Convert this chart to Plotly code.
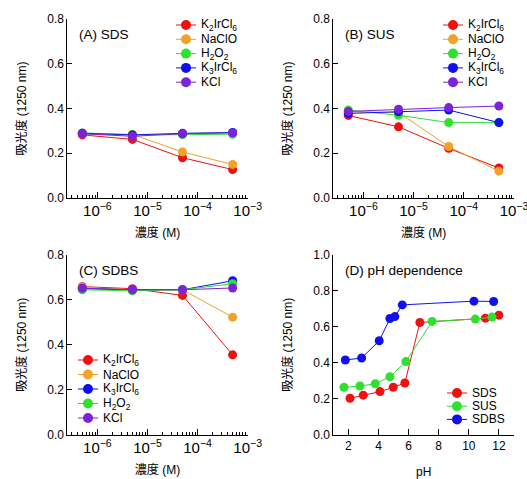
import plotly.graph_objects as go

# ---------------- data ----------------
conc = [5e-7, 5e-6, 5e-5, 5e-4]

sds_k2ircl6 = [0.282, 0.262, 0.180, 0.127]
sds_naclo = [0.287, 0.284, 0.206, 0.150]
sds_h2o2 = [0.291, 0.283, 0.283, 0.285]
sds_k3ircl6 = [0.289, 0.282, 0.289, 0.293]
sds_kcl = [0.287, 0.276, 0.287, 0.291]

sus_k2ircl6 = [0.369, 0.318, 0.222, 0.134]
sus_naclo = [0.385, 0.382, 0.230, 0.120]
sus_h2o2 = [0.393, 0.370, 0.337, 0.337]
sus_k3ircl6 = [0.378, 0.385, 0.393, 0.337]
sus_kcl = [0.387, 0.397, 0.404, 0.411]

sdbs_k2ircl6 = [0.659, 0.650, 0.620, 0.355]
sdbs_naclo = [0.655, 0.645, 0.645, 0.523]
sdbs_k3ircl6 = [0.650, 0.645, 0.645, 0.685]
sdbs_h2o2 = [0.645, 0.640, 0.645, 0.672]
sdbs_kcl = [0.652, 0.645, 0.645, 0.653]

ph_sds = [2.11, 2.99, 4.10, 4.98, 5.75, 6.75, 11.10, 12.00]
abs_sds = [0.202, 0.219, 0.239, 0.263, 0.287, 0.624, 0.648, 0.665]
ph_sus = [1.71, 2.77, 3.79, 4.76, 5.82, 7.56, 10.43, 11.54]
abs_sus = [0.263, 0.270, 0.283, 0.322, 0.406, 0.630, 0.643, 0.654]
ph_sdbs = [1.80, 2.88, 4.05, 4.76, 5.09, 5.58, 10.34, 11.65]
abs_sdbs = [0.415, 0.426, 0.522, 0.646, 0.657, 0.722, 0.743, 0.741]

names = {
    "k2": "K<sub>2</sub>IrCl<sub>6</sub>",
    "naclo": "NaClO",
    "h2o2": "H<sub>2</sub>O<sub>2</sub>",
    "k3": "K<sub>3</sub>IrCl<sub>6</sub>",
    "kcl": "KCl",
    "SDS": "SDS", "SUS": "SUS", "SDBS": "SDBS",
}
colors = {
    "k2": "#ee1111",
    "naclo": "#f2a229",
    "h2o2": "#2fe02f",
    "k3": "#1010ee",
    "kcl": "#7d22d8",
    "SDS": "#ee1111",
    "SUS": "#2fe02f",
    "SDBS": "#1010ee",
}

panel_a = [("k2", sds_k2ircl6), ("naclo", sds_naclo), ("h2o2", sds_h2o2),
           ("k3", sds_k3ircl6), ("kcl", sds_kcl)]
panel_b = [("k2", sus_k2ircl6), ("naclo", sus_naclo), ("h2o2", sus_h2o2),
           ("k3", sus_k3ircl6), ("kcl", sus_kcl)]
panel_c = [("k2", sdbs_k2ircl6), ("naclo", sdbs_naclo), ("k3", sdbs_k3ircl6),
           ("h2o2", sdbs_h2o2), ("kcl", sdbs_kcl)]
panel_d = [("SDS", ph_sds, abs_sds),
           ("SUS", ph_sus, abs_sus),
           ("SDBS", ph_sdbs, abs_sdbs)]

W, H = 527, 479
FONT = "Liberation Sans, Arial, Noto Sans CJK JP, sans-serif"

fig = go.Figure()

def add_panel(series, xa, ya):
    for key, vals in series:
        fig.add_trace(go.Scatter(
            x=conc, y=vals, mode="lines+markers", name=names[key],
            line=dict(color=colors[key], width=1),
            marker=dict(color=colors[key], size=9),
            xaxis=xa, yaxis=ya, showlegend=False))

add_panel(panel_a, "x", "y")
add_panel(panel_b, "x2", "y2")
add_panel(panel_c, "x3", "y3")
for key, xs, ys in panel_d:
    fig.add_trace(go.Scatter(
        x=xs, y=ys, mode="lines+markers", name=names[key],
        line=dict(color=colors[key], width=1),
        marker=dict(color=colors[key], size=9),
        xaxis="x4", yaxis="y4", showlegend=False))

def fx(p):
    return p / W

def fy(p):
    return 1 - p / H

dom_x_left = [fx(67.3), fx(247.7)]
dom_x_right = [fx(333.3), fx(514.0)]
dom_y_top = [fy(198), fy(19)]
dom_y_bot = [fy(434.5), fy(255)]

tickfont = dict(family=FONT, size=12, color="black")
titlefont = dict(family=FONT, size=12, color="black")

def log_axis(domain, anchor):
    return dict(
        type="log", domain=domain, anchor=anchor, range=[-6.6, -3],
        dtick=1, exponentformat="power", showexponent="all",
        showline=True, linecolor="black", linewidth=1,
        ticks="inside", ticklen=6, tickcolor="black",
        minor=dict(ticks="inside", ticklen=3, tickcolor="black", dtick="D1", showgrid=False),
        showgrid=False, zeroline=False, tickfont=tickfont, automargin=False,
        ticklabeloverflow="allow",
        title=dict(text="濃度 (M)", font=titlefont, standoff=10),
    )

def y_axis(domain, anchor, top):
    return dict(
        domain=domain, anchor=anchor, range=[0, top], dtick=0.2, tickformat=".1f",
        showline=True, linecolor="black", linewidth=1,
        ticks="inside", ticklen=5, tickcolor="black",
        showgrid=False, zeroline=False, tickfont=tickfont, automargin=False,
        title=dict(text="吸光度 (1250 nm)", font=titlefont, standoff=18),
    )

fig.update_layout(
    width=W, height=H, autosize=False,
    margin=dict(l=0, r=0, t=0, b=0, pad=0),
    paper_bgcolor="white", plot_bgcolor="white",
    font=dict(family=FONT, size=12, color="black"),
    showlegend=False,
    xaxis=log_axis(dom_x_left, "y"),
    yaxis=y_axis(dom_y_top, "x", 0.8),
    xaxis2=log_axis(dom_x_right, "y2"),
    yaxis2=y_axis(dom_y_top, "x2", 0.8),
    xaxis3=log_axis(dom_x_left, "y3"),
    yaxis3=y_axis(dom_y_bot, "x3", 0.8),
    xaxis4=dict(
        domain=dom_x_right, anchor="y4", range=[1, 13], dtick=2,
        showline=True, linecolor="black", linewidth=1,
        ticks="inside", ticklen=6, tickcolor="black",
        showgrid=False, zeroline=False, tickfont=tickfont, automargin=False,
        ticklabeloverflow="allow",
        title=dict(text="pH", font=titlefont, standoff=20),
    ),
    yaxis4=y_axis(dom_y_bot, "x4", 1.0),
)

# panel labels
ann_font = dict(family=FONT, size=13.5, color="black")
for txt, xr, yr in [("(A) SDS", "x", "y"), ("(B) SUS", "x2", "y2"),
                    ("(C) SDBS", "x3", "y3"), ("(D) pH dependence", "x4", "y4")]:
    fig.add_annotation(text=txt, xref=f"{xr} domain", yref=f"{yr} domain",
                       x=0.055, y=0.915, xanchor="left", yanchor="middle",
                       showarrow=False, font=ann_font)

# legends (key line + dot + label), positions in page pixels
legend_specs = [
    (176, [25, 39.3, 53.6, 67.9, 82.2], [k for k, _ in panel_a]),
    (443, [25, 39.3, 53.6, 67.9, 82.2], [k for k, _ in panel_b]),
    (78, [360, 374.5, 389, 403.5, 418], [k for k, _ in panel_c]),
    (447, [393, 406.2, 419.4], [k for k, _, _ in panel_d]),
]
leg_font = dict(family=FONT, size=12, color="black")
for x0, rows, keys in legend_specs:
    for yy, key in zip(rows, keys):
        c = colors[key]
        fig.add_shape(type="line", xref="paper", yref="paper",
                      x0=fx(x0), x1=fx(x0 + 20), y0=fy(yy), y1=fy(yy),
                      line=dict(color=c, width=1))
        fig.add_shape(type="circle", xref="paper", yref="paper",
                      xsizemode="pixel", ysizemode="pixel",
                      xanchor=fx(x0 + 10), yanchor=fy(yy),
                      x0=-5, x1=5, y0=-5, y1=5,
                      fillcolor=c, line=dict(color=c, width=0))
        fig.add_annotation(text=names[key], xref="paper", yref="paper",
                           x=fx(x0 + 23), y=fy(yy), xanchor="left", yanchor="middle",
                           showarrow=False, font=leg_font)

fig.write_html(
    "out.html",
    config={"displayModeBar": False},
    post_script="document.body.style.margin='0';document.documentElement.style.overflow='hidden';",
)
